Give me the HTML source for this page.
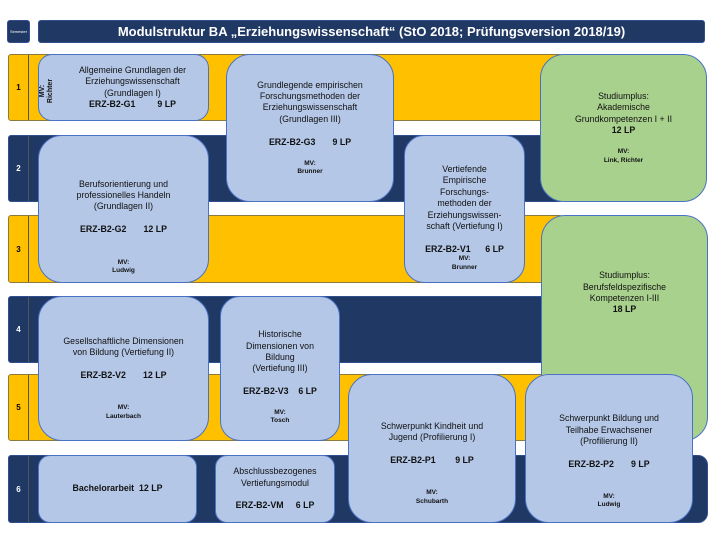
<!DOCTYPE html>
<html><head><meta charset="utf-8"><style>
body{margin:0;width:720px;height:540px;background:#fff;position:relative;overflow:hidden;font-family:"Liberation Sans",sans-serif;}
div{position:absolute;box-sizing:border-box;}
.y{background:#ffc000;border:1px solid #8a7a40;border-radius:3px;}
.n{background:#203864;border:1px solid #2f4f8f;border-radius:3px;}
.num{width:20px;border-right:1px solid #555;font-size:8px;font-weight:bold;display:flex;align-items:center;justify-content:center;}
.b{background:#b4c7e7;border:1px solid #4a72c4;border-radius:20px;display:flex;flex-direction:column;align-items:center;justify-content:center;text-align:center;font-size:8.8px;color:#111;line-height:1.3;}
.g{background:#a9d18e;border:1px solid #4a72c4;border-radius:24px;display:flex;flex-direction:column;align-items:center;justify-content:center;text-align:center;font-size:8.8px;color:#111;line-height:1.3;}
.c{font-weight:bold;}
.m{font-size:6.5px;font-weight:bold;line-height:1.3;}
</style></head><body>
<div class="n" style="left:7px;top:20px;width:23px;height:23px;color:#fff;font-size:4px;display:flex;align-items:center;justify-content:center;">Semester</div>
<div class="n" style="left:38px;top:20px;width:667px;height:23px;color:#fff;font-size:13px;font-weight:bold;display:flex;align-items:center;justify-content:center;">Modulstruktur BA „Erziehungswissenschaft“ (StO 2018; Prüfungsversion 2018/19)</div>

<div class="y" style="left:8px;top:54px;width:555px;height:67px;"><div class="num" style="left:0;top:0;height:100%;">1</div></div>
<div class="n" style="left:8px;top:135px;width:555px;height:67px;"><div class="num" style="left:0;top:0;height:100%;color:#fff;">2</div></div>
<div class="y" style="left:8px;top:215px;width:555px;height:68px;"><div class="num" style="left:0;top:0;height:100%;">3</div></div>
<div class="n" style="left:8px;top:296px;width:545px;height:67px;"><div class="num" style="left:0;top:0;height:100%;color:#fff;">4</div></div>
<div class="y" style="left:8px;top:374px;width:545px;height:67px;"><div class="num" style="left:0;top:0;height:100%;">5</div></div>
<div class="n" style="left:8px;top:455px;width:700px;height:68px;border-radius:3px 10px 10px 3px;"><div class="num" style="left:0;top:0;height:100%;color:#fff;">6</div></div>

<div class="b" style="left:38px;top:54px;width:171px;height:67px;border-radius:14px;padding-left:18px;">
<div style="left:2px;top:22px;width:12px;height:28px;font-size:7px;font-weight:bold;transform:rotate(-90deg);transform-origin:center;display:flex;align-items:center;justify-content:center;white-space:nowrap;line-height:1.1;text-align:center;">MV:<br>Richter</div>
<span>Allgemeine Grundlagen der<br>Erziehungswissenschaft<br>(Grundlagen I)</span><span class="c">ERZ-B2-G1 &nbsp;&nbsp;&nbsp;&nbsp;&nbsp;&nbsp;&nbsp; 9 LP</span></div>

<div class="b" style="left:226px;top:54px;width:168px;height:148px;border-radius:24px;">
<span>Grundlegende empirischen<br>Forschungsmethoden der<br>Erziehungswissenschaft<br>(Grundlagen III)</span><br><span class="c">ERZ-B2-G3 &nbsp;&nbsp;&nbsp;&nbsp;&nbsp; 9 LP</span><br><span class="m">MV:<br>Brunner</span></div>

<div class="b" style="left:38px;top:135px;width:171px;height:148px;border-radius:24px;padding-top:36px;">
<span>Berufsorientierung und<br>professionelles Handeln<br>(Grundlagen II)</span><br><span class="c">ERZ-B2-G2 &nbsp;&nbsp;&nbsp;&nbsp;&nbsp; 12 LP</span><br><br><span class="m">MV:<br>Ludwig</span></div>

<div class="b" style="left:404px;top:135px;width:121px;height:148px;border-radius:20px;padding-top:18px;">
<span>Vertiefende<br>Empirische<br>Forschungs-<br>methoden der<br>Erziehungswissen-<br>schaft (Vertiefung I)</span><br><span class="c">ERZ-B2-V1 &nbsp;&nbsp;&nbsp;&nbsp; 6 LP</span><span class="m">MV:<br>Brunner</span></div>

<div class="g" style="left:540px;top:54px;width:167px;height:148px;">
<span>Studiumplus:<br>Akademische<br>Grundkompetenzen I + II</span><span class="c">12 LP</span><br><span class="m">MV:<br>Link, Richter</span></div>

<div class="g" style="left:541px;top:215px;width:167px;height:226px;border-radius:24px;padding-bottom:70px;">
<span>Studiumplus:<br>Berufsfeldspezifische<br>Kompetenzen I-III</span><span class="c">18 LP</span></div>

<div class="b" style="left:38px;top:296px;width:171px;height:145px;border-radius:24px;padding-top:20px;">
<span>Gesellschaftliche Dimensionen<br>von Bildung (Vertiefung II)</span><br><span class="c">ERZ-B2-V2 &nbsp;&nbsp;&nbsp;&nbsp;&nbsp; 12 LP</span><br><br><span class="m">MV:<br>Lauterbach</span></div>

<div class="b" style="left:220px;top:296px;width:120px;height:145px;border-radius:20px;padding-top:18px;">
<span>Historische<br>Dimensionen von<br>Bildung<br>(Vertiefung III)</span><br><span class="c">ERZ-B2-V3 &nbsp;&nbsp; 6 LP</span><br><span class="m">MV:<br>Tosch</span></div>

<div class="b" style="left:348px;top:374px;width:168px;height:149px;border-radius:24px;padding-top:30px;">
<span>Schwerpunkt Kindheit und<br>Jugend (Profilierung I)</span><br><span class="c">ERZ-B2-P1 &nbsp;&nbsp;&nbsp;&nbsp;&nbsp;&nbsp; 9 LP</span><br><br><span class="m">MV:<br>Schubarth</span></div>

<div class="b" style="left:525px;top:374px;width:168px;height:149px;border-radius:24px;padding-top:26px;">
<span>Schwerpunkt Bildung und<br>Teilhabe Erwachsener<br>(Profilierung II)</span><br><span class="c">ERZ-B2-P2 &nbsp;&nbsp;&nbsp;&nbsp;&nbsp; 9 LP</span><br><br><span class="m">MV:<br>Ludwig</span></div>

<div class="b" style="left:38px;top:455px;width:159px;height:68px;border-radius:12px;"><span class="c">Bachelorarbeit &nbsp;12 LP</span></div>

<div class="b" style="left:215px;top:455px;width:120px;height:68px;border-radius:12px;">
<span>Abschlussbezogenes<br>Vertiefungsmodul</span><br><span class="c">ERZ-B2-VM &nbsp;&nbsp;&nbsp; 6 LP</span></div>
</body></html>
